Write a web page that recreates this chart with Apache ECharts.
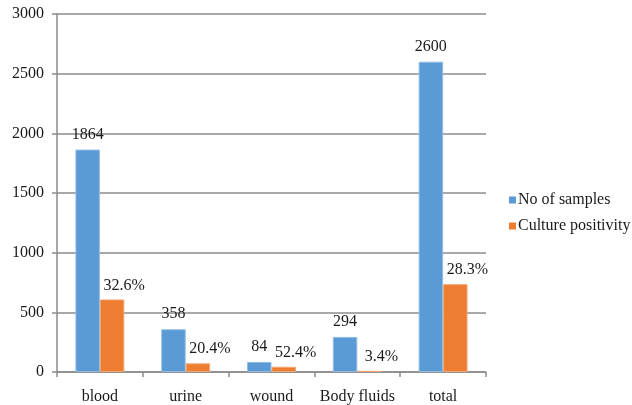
<!DOCTYPE html>
<html>
<head>
<meta charset="utf-8">
<script src="https://cdn.jsdelivr.net/npm/echarts@6/dist/echarts.min.js"></script>
<style>
html, body { margin: 0; padding: 0; background: #fff; }
#chart { width: 632px; height: 405px; }
</style>
</head>
<body>
<div id="chart"></div>
<script>
var categories = ['blood', 'urine', 'wound', 'Body fluids', 'total'];
var samples = [1864, 358, 84, 294, 2600];
// positive cultures (count), label shows percent
var positive = [608, 73, 44, 10, 736];
var positivePct = ['32.6%', '20.4%', '52.4%', '3.4%', '28.3%'];

var font = '"Liberation Serif", "Times New Roman", serif';
var textColor = '#1a1a1a';
var lineColor = '#8c8c8c';
var fs = 16;

var myChart = echarts.init(document.getElementById('chart'));

var option = {
	animation: false,
	textStyle: { fontFamily: font },
	grid: { left: 57, right: 146, top: 14, bottom: 33 },
	legend: {
		orient: 'vertical',
		left: 504,
		top: 187,
		itemWidth: 7,
		itemHeight: 7,
		itemGap: 10,
		icon: 'rect',
		itemStyle: { borderWidth: 0 },
		textStyle: { fontFamily: font, fontSize: fs, color: textColor, padding: [0, 0, 0, -3] },
		data: ['No of samples', 'Culture positivity']
	},
	xAxis: {
		type: 'category',
		data: categories,
		axisLine: { lineStyle: { color: lineColor, width: 1.5 } },
		axisTick: { show: true, length: 5, lineStyle: { color: lineColor, width: 1.5 } },
		axisLabel: { interval: 0, margin: 17, fontFamily: font, fontSize: fs, color: textColor }
	},
	yAxis: {
		type: 'value',
		min: 0,
		max: 3000,
		interval: 500,
		axisLine: { show: true, lineStyle: { color: lineColor, width: 1.5 } },
		axisTick: { show: true, length: 5, lineStyle: { color: lineColor, width: 1.5 } },
		splitLine: { lineStyle: { color: lineColor, width: 1.5 } },
		axisLabel: {
			margin: 13, fontFamily: font, fontSize: fs, color: textColor,
			formatter: function (v) { return String(v); }
		}
	},
	series: [
		{
			name: 'No of samples',
			type: 'bar',
			data: samples,
			barGap: '0%',
			barCategoryGap: '43%',
			itemStyle: { color: '#5B9BD5', borderColor: '#8fbbe4', borderWidth: 1 },
			label: {
				show: true,
				position: 'top',
				distance: 7,
				fontFamily: font,
				fontSize: fs,
				color: textColor
			}
		},
		{
			name: 'Culture positivity',
			type: 'bar',
			data: positive,
			itemStyle: { color: '#ED7D31', borderColor: '#f3a774', borderWidth: 1 },
			label: {
				show: true,
				position: 'top',
				distance: 6,
				offset: [12, 0],
				fontFamily: font,
				fontSize: fs,
				color: textColor,
				formatter: function (p) { return positivePct[p.dataIndex]; }
			}
		}
	]
};

myChart.setOption(option);
</script>
</body>
</html>
